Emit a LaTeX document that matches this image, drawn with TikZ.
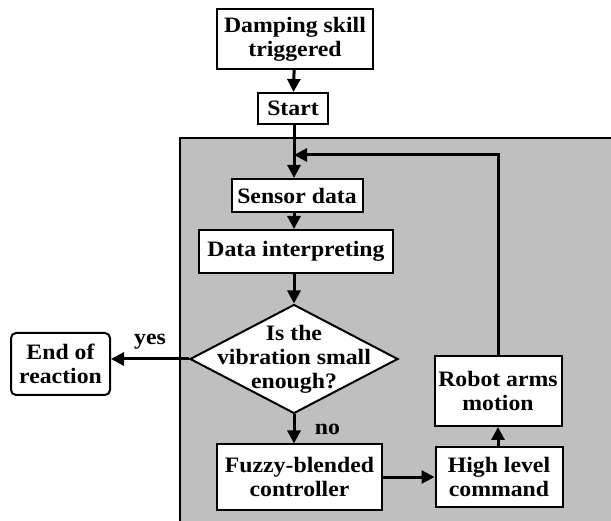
\documentclass[tikz,border=0pt]{standalone}
\usepackage{fontspec}
\setmainfont{Liberation Serif}[FakeStretch=1.08]
\usepackage{tikz}
\usetikzlibrary{shapes.geometric, arrows.meta}
\definecolor{panelgray}{RGB}{191, 191, 191}

\begin{document}
\begin{tikzpicture}[
    x=1pt, y=-1pt,
    font=\fontsize{22}{24}\selectfont\bfseries,
    box/.style={draw, fill=white, line width=2pt, inner sep=0pt, align=center,
                minimum width=#1},
    box/.default=100pt,
    decision/.style={diamond, draw, fill=white, line width=2pt, inner sep=0pt,
                     minimum width=208pt, minimum height=109pt},
    flow/.style={line width=3pt, -{Triangle[length=13pt, width=13pt]}}
]

    % ==========================================
    % FRAME & CONTROL LOOP PANEL
    % ==========================================
    \useasboundingbox (0,0) rectangle (611,521);
    \fill[panelgray] (180,138) rectangle (611,521);
    \draw[line width=2pt] (611,138) -- (180,138) -- (180,521);

    % ==========================================
    % COORDINATES
    % ==========================================
    % Main column (x = 294)
    \coordinate (c_trig)   at (295, 39);
    \coordinate (c_start)  at (293, 108.5);
    \coordinate (c_sensor) at (297, 195.5);
    \coordinate (c_interp) at (296, 251.5);
    \coordinate (c_check)  at (294, 359);
    \coordinate (c_fuzzy)  at (299.5, 477);

    % Side boxes
    \coordinate (c_end)    at (60.5, 364);
    \coordinate (c_high)   at (499, 477);
    \coordinate (c_robot)  at (498, 391);

    % Where the loop comes back in
    \coordinate (loop_in)  at (294, 155);

    % ==========================================
    % BOXES
    % ==========================================
    \node[box=156pt, minimum height=60pt] (trig) at (c_trig) {Damping skill\\triggered};
    \node[box=70pt,  minimum height=31pt] (start) at (c_start) {Start};

    \node[box=131pt, minimum height=33pt] (sensor) at (c_sensor) {Sensor data};
    \node[box=194pt, minimum height=43pt] (interp) at (c_interp) {Data interpreting};

    \node[decision] (check) at (c_check) {};
    \node[align=center, inner sep=0pt] (checktext) at (c_check) {Is the\\vibration small\\enough?};

    \node[box=99pt, minimum height=62pt, rounded corners=5pt] (endr) at (c_end) {End of\\reaction};

    \node[box=165pt, minimum height=65pt] (fuzzy) at (c_fuzzy) {Fuzzy-blended\\controller};
    \node[box=127pt, minimum height=60pt] (high)  at (c_high)  {High level\\command};
    \node[box=127pt, minimum height=70pt] (robot) at (c_robot) {Robot arms\\motion};

    % ==========================================
    % CONNECTORS
    % ==========================================
    \draw[flow] (trig) -- (start);
    \draw[flow] (start.south -| loop_in) -- (sensor.north -| loop_in);
    \draw[flow] (sensor.south -| loop_in) -- (interp.north -| loop_in);
    \draw[flow] (interp.south -| loop_in) -- (check.north);

    % Decision
    \draw[flow] (check.west) -- (check.west -| endr.east)
        node[midway, above=5pt] {yes};
    \draw[flow] (check.south) -- (check.south |- fuzzy.north)
        node[midway, right=16pt] {no};

    % Loop
    \draw[flow] (fuzzy.east |- high.west) -- (high.west);
    \draw[flow] (high.north -| robot.north) -- (robot.south);
    \draw[flow] (robot.north) |- (loop_in);

\end{tikzpicture}
\end{document}
